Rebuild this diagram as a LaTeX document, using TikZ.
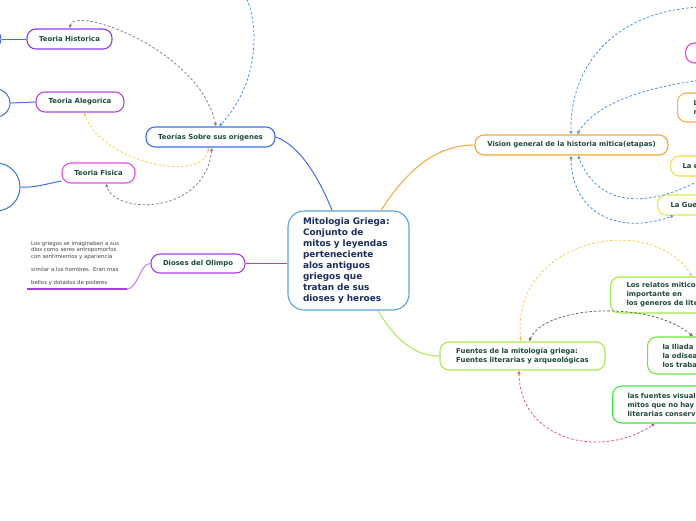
\documentclass[tikz,border=0pt]{standalone}
\usepackage{fontspec}
\setmainfont{DejaVu Sans}
\usetikzlibrary{arrows.meta}
\definecolor{cteo}{HTML}{3D6FF0}
\definecolor{chis}{HTML}{8A3CF0}
\definecolor{cale}{HTML}{B347E6}
\definecolor{cfis}{HTML}{E64CE6}
\definecolor{cdio}{HTML}{A83CE8}
\definecolor{cdio2}{HTML}{C890F0}
\definecolor{ccen}{HTML}{5BA3DC}
\definecolor{cvis}{HTML}{F5A537}
\definecolor{cmag}{HTML}{E63CDC}
\definecolor{corg}{HTML}{F5B04D}
\definecolor{cyel}{HTML}{F0E040}
\definecolor{cyg}{HTML}{D4F040}
\definecolor{cfue}{HTML}{A8EB4D}
\definecolor{cg1}{HTML}{9AEB40}
\definecolor{cg2}{HTML}{6EE640}
\definecolor{cg3}{HTML}{40E640}
\definecolor{tgreen}{HTML}{1F4A3A}
\definecolor{cnavy}{HTML}{1C2C5C}
\definecolor{dpur}{HTML}{8C7AA0}
\definecolor{dblue}{HTML}{4A90E2}
\definecolor{dyel}{HTML}{F5D050}
\definecolor{dgray}{HTML}{6E6458}
\definecolor{dpink}{HTML}{E0507A}
\definecolor{stxt}{HTML}{444444}
\tikzset{
  topic/.style={draw, rounded corners=9pt, line width=1.1pt, fill=white,
    font=\fontsize{6.9}{9}\selectfont\bfseries, text=tgreen, inner sep=0pt, minimum height=20pt},
  clipnode/.style={topic, anchor=west, align=left, inner ysep=0pt},
  bubble/.style={circle, draw=cteo, line width=1pt, inner sep=0pt, fill=white},
  rel/.style={line width=0.8pt, dash pattern=on 2.5pt off 2pt},
  tipone/.style={arrows={-Latex[length=3.5pt,width=3.5pt]}},
  tiptwo/.style={arrows={Latex[length=3.5pt,width=3.5pt]-Latex[length=3.5pt,width=3.5pt]}},
  br/.style={line width=1pt}
}
\begin{document}
\begin{tikzpicture}[x=1pt,y=-1pt]
\useasboundingbox (0,0) rectangle (696,520);
\clip (0,0) rectangle (696,520);

% central
\node[draw=ccen, line width=1.1pt, rounded corners=16pt, fill=white, text width=91pt,
  inner xsep=15pt, inner ysep=0pt, minimum height=99pt, align=left, text=cnavy,
  font=\fontsize{8.9}{11}\selectfont\bfseries] (cen) at (348.5,260.5)
  {Mitologia Griega:\\Conjunto de\\mitos y leyendas\\perteneciente\\alos antiguos\\griegos que\\tratan de sus\\dioses y heroes};

% left side
\node[topic, draw=cteo, minimum width=129pt] (teo) at (210.5,137) {Teorías Sobre sus orígenes};
\node[topic, draw=chis, minimum width=85pt] (hist) at (69.5,39) {Teoria Historica};
\node[topic, draw=cale, minimum width=88pt] (aleg) at (80,102) {Teoria Alegorica};
\node[topic, draw=cfis, minimum width=73pt] (fis) at (98.5,173) {Teoria Fisica};
\node[bubble, minimum size=22pt] (c1) at (-10,39) {};
\node[bubble, minimum size=28pt] (c2) at (-4,103) {};
\node[bubble, minimum size=48pt] (c3) at (-4,187) {};
\node[topic, draw=cdio, minimum width=94pt, minimum height=19pt] (dio) at (198,263.5) {Dioses del Olimpo};
\node[anchor=north west, align=left, inner sep=0pt, text=stxt, font=\fontsize{5.4}{6.5}\selectfont] (dtx) at (31,241)
  {Los griegos se imaginaban a sus\\dios como seres antropomorfos\\con sentimientos y apariencia\\[6.5pt]similar a los hombres. Eran mas\\[6.5pt]bellos y dotados de poderes};
\coordinate (u1) at (127,289);
\coordinate (u2) at (27,289);

% right side
\node[topic, draw=cvis, minimum width=193pt] (vis) at (571.5,145) {Vision general de la historia mitica(etapas)};
\node[clipnode, draw=cmag, minimum width=60pt] (n1) at (685,53) {};
\node[clipnode, draw=corg, text width=40pt, inner xsep=16pt, minimum height=29pt] (n2) at (677,107.5) {L\\n};
\node[clipnode, draw=cyel, text width=40pt, inner xsep=12pt] (n3) at (670,166) {La e};
\node[clipnode, draw=cyg, text width=45pt, inner xsep=13pt] (n4) at (657,205) {La Gue};
\node[topic, draw=cfue, align=left, minimum width=165pt, minimum height=28pt] (fue) at (522.5,356)
  {Fuentes de la mitología griega:\\Fuentes literarias y arqueológicas};
\node[clipnode, draw=cg1, text width=100pt, inner xsep=16pt, minimum height=36pt] (rel) at (610,295)
  {Los relatos miticos\\importante en\\los generos de lite};
\node[clipnode, draw=cg2, text width=60pt, inner xsep=15pt, minimum height=37pt] (ili) at (647,355.5)
  {la Iliada\\la odisea\\los traba};
\node[clipnode, draw=cg3, text width=100pt, inner xsep=15pt, minimum height=37pt] (fv) at (612,404.5)
  {las fuentes visual\\mitos que no hay\\literarias conserv};

\coordinate (btop) at (245,-5);
\coordinate (tr1) at (702,7);
\coordinate (tr2) at (702,80);
\coordinate (tr3) at (702,179);

% main branches
\draw[br, cteo] ([xshift=-16.5]cen.north) .. controls (320,180) and (300,145) .. (teo.east);
\draw[br, cvis] ([xshift=32.5]cen.north) .. controls (410,165) and (440,145) .. (vis.west);
\draw[br, cdio] (cen.west |- dio.east) -- (dio.east);
\draw[br, cfue] ([xshift=29.5]cen.south) .. controls (395,340) and (415,356) .. (fue.west);

% left sub branches
\draw[br, cteo] (hist.west) -- (c1.east);
\draw[br, cteo] (aleg.west) -- (c2.east);
\draw[br, cteo] ([yshift=-8pt]fis.west) .. controls (45,184) and (35,188) .. (c3.east);
\draw[line width=1.2pt, cdio2] (dio.west) .. controls (140,263) and (138,289) .. (u1);
\draw[line width=1.2pt, cdio] (u1) -- (u2);

% relationship lines left
\draw[rel, dpur, tiptwo] ([xshift=5.5pt]teo.north) .. controls (200,50) and (75,5) .. (hist.north);
\draw[rel, dblue, tipone] (btop) .. controls (258,20) and (262,80) .. ([xshift=8.5pt]teo.north);
\draw[rel, dyel, tiptwo] ([xshift=-1.5pt]teo.south) .. controls (200,185) and (100,160) .. ([xshift=4pt]aleg.south);
\draw[rel, dpur, tiptwo] ([xshift=1.5pt]teo.south) .. controls (205,215) and (115,215) .. ([xshift=7.5pt]fis.south);

% relationship lines right
\draw[rel, dblue, tipone] (tr1) .. controls (620,10) and (570,60) .. ([xshift=-0.5pt]vis.north);
\draw[rel, dblue, tipone] (tr2) .. controls (640,88) and (595,105) .. ([xshift=5.5pt]vis.north);
\draw[rel, dblue, tipone] (tr3) .. controls (655,205) and (600,212) .. ([xshift=6.5pt]vis.south);
\draw[rel, dblue, tiptwo] ([xshift=-0.5pt]vis.south) .. controls (572,215) and (620,235) .. ([xshift=17pt]n4.south west);

% relationship lines bottom right
\draw[rel, dyel, tiptwo] ([xshift=-1.5pt]fue.north) .. controls (510,240) and (650,210) .. ([xshift=82pt]rel.north west);
\draw[rel, dgray, tiptwo] ([xshift=6.5pt]fue.north) .. controls (545,305) and (650,300) .. ([xshift=46pt]ili.north west);
\draw[rel, dpink, tiptwo] ([xshift=-3.5pt]fue.south) .. controls (520,440) and (600,460) .. ([xshift=43pt]fv.south west);
\end{tikzpicture}
\end{document}
